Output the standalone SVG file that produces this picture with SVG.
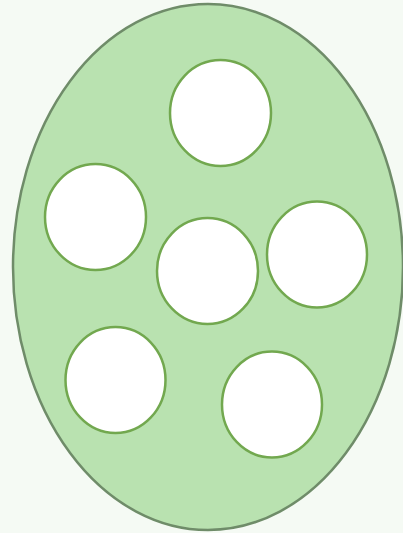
<svg xmlns="http://www.w3.org/2000/svg" width="403" height="533" viewBox="0 0 403 533">
<style>
.c{fill:#ffffff;stroke:#72a84f;stroke-width:2.5}
</style>
<rect width="403" height="533" fill="#f5faf4"/>
<g id="outer"><ellipse cx="208" cy="267" rx="195" ry="263" fill="#b9e2b0" stroke="#6f8c69" stroke-width="2.5"/></g>
<g id="n1"><ellipse class="c" cx="220.5" cy="113" rx="50.5" ry="53"/></g>
<g id="n2"><ellipse class="c" cx="95.5" cy="217" rx="50.5" ry="53"/></g>
<g id="n3"><ellipse class="c" cx="207.5" cy="271" rx="50.5" ry="53"/></g>
<g id="n4"><ellipse class="c" cx="317" cy="254.5" rx="50" ry="53"/></g>
<g id="n5"><ellipse class="c" cx="115.5" cy="380" rx="50" ry="53"/></g>
<g id="n6"><ellipse class="c" cx="272" cy="404.5" rx="50" ry="53"/></g>
<g id="connectors"/>
</svg>
